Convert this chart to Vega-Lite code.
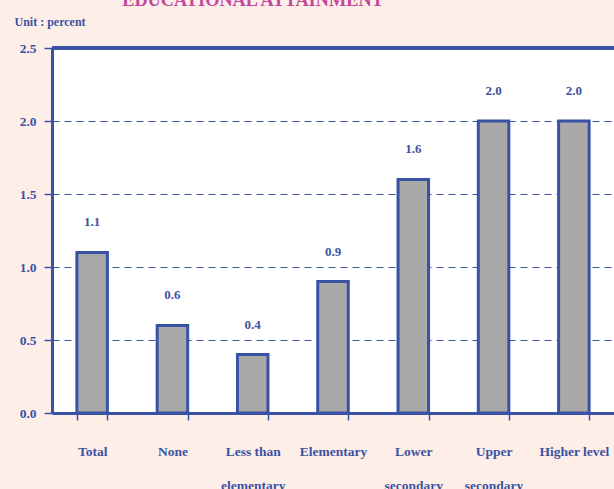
{
  "$schema": "https://vega.github.io/schema/vega-lite/v6.json",
  "autosize": "none",
  "width": 562,
  "height": 365,
  "padding": {"left": 52, "top": 48, "right": 0, "bottom": 76},
  "background": "#FEEEE8",
  "title": {
    "text": "EDUCATIONAL ATTAINMENT",
    "font": "Liberation Serif",
    "fontSize": 18.3,
    "fontWeight": "bold",
    "color": "#C2479E",
    "anchor": "middle",
    "frame": "group",
    "dx": -80,
    "dy": 19,
    "baseline": "alphabetic",
    "offset": 10
  },
  "config": {
    "view": {"stroke": null, "fill": "#FFFFFF"},
    "font": "Liberation Serif"
  },
  "data": {
    "values": [
      {"cat": "Total", "value": 1.1},
      {"cat": "None", "value": 0.6},
      {"cat": "Less than|elementary", "value": 0.4},
      {"cat": "Elementary", "value": 0.9},
      {"cat": "Lower|secondary", "value": 1.6},
      {"cat": "Upper|secondary", "value": 2.0},
      {"cat": "Higher level", "value": 2.0}
    ]
  },
  "encoding": {
    "x": {
      "field": "cat",
      "type": "nominal",
      "sort": null,
      "scale": {"paddingInner": 0.62, "paddingOuter": 0.31},
      "axis": {
        "title": null,
        "labelAngle": 0,
        "labelExpr": "split(datum.label, '|')",
        "labelFont": "Liberation Serif",
        "labelFontSize": 13.5,
        "labelFontWeight": "bold",
        "labelColor": "#3A52A4",
        "labelLineHeight": 34,
        "labelPadding": 31,
        "labelBaseline": "middle",
        "tickBand": "extent",
        "tickSize": 7,
        "tickColor": "#3A52A4",
        "tickWidth": 1.5,
        "domainColor": "#3A52A4",
        "domainWidth": 3,
        "grid": false
      }
    },
    "y": {
      "field": "value",
      "type": "quantitative",
      "scale": {"domain": [0, 2.5]},
      "axis": {
        "title": "Unit : percent",
        "titleAngle": 0,
        "titleAlign": "left",
        "titleBaseline": "alphabetic",
        "titleX": -38,
        "titleY": -23,
        "titleFont": "Liberation Serif",
        "titleFontSize": 12,
        "titleFontWeight": "bold",
        "titleColor": "#3A52A4",
        "values": [0, 0.5, 1, 1.5, 2, 2.5],
        "format": ".1f",
        "labelFont": "Liberation Serif",
        "labelFontSize": 13.5,
        "labelFontWeight": "bold",
        "labelColor": "#3A52A4",
        "labelPadding": 8,
        "tickSize": 8,
        "tickColor": "#3A52A4",
        "tickWidth": 1.5,
        "domainColor": "#3A52A4",
        "domainWidth": 3,
        "grid": true,
        "gridColor": "#3A52A4",
        "gridDash": [7, 5],
        "gridWidth": 1
      }
    }
  },
  "layer": [
    {
      "mark": {"type": "bar", "fill": "#A9A9A9", "stroke": "#3A52A4", "strokeWidth": 3}
    },
    {
      "mark": {"type": "text", "dy": -30, "font": "Liberation Serif", "fontSize": 13, "fontWeight": "bold", "color": "#3A52A4"},
      "encoding": {"text": {"field": "value", "type": "quantitative", "format": ".1f"}}
    },
    {
      "mark": {"type": "rule", "color": "#3A52A4", "strokeWidth": 3},
      "encoding": {"y": {"datum": 2.5}, "x": null}
    }
  ]
}
